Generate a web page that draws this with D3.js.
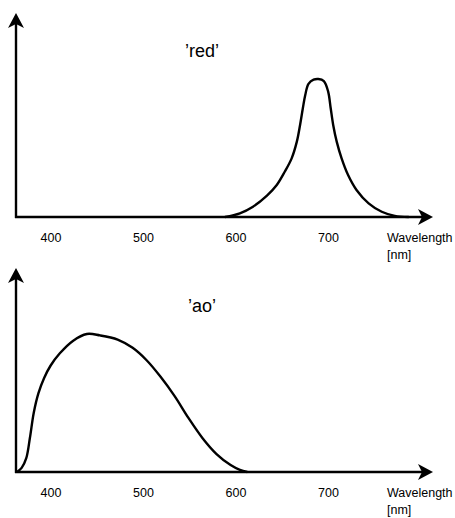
<!DOCTYPE html>
<html>
<head>
<meta charset="utf-8">
<script src="https://cdn.jsdelivr.net/npm/d3@7"></script>
<style>
  html, body { margin: 0; padding: 0; background: #ffffff; }
  svg { display: block; }
</style>
</head>
<body>
<svg id="chart"></svg>
<script>
// tick labels on the wavelength axis
const wavelengthTicks = [400, 500, 600, 700];

// 'red' spectrum (nm, relative response)
const redWavelength = [588.6, 604.7, 618.9, 634, 644.6, 653.2, 660.7, 666.3, 669.8, 672.8, 675.4, 678.9, 684.4, 689.5, 695.5, 700.1, 702.9, 705.6, 709.4, 714.7, 721.7, 730.8, 743.9, 758.1, 772.2, 787.3];
const redValue = [0, 0.027, 0.075, 0.155, 0.232, 0.328, 0.425, 0.546, 0.667, 0.788, 0.884, 0.965, 0.995, 1.0, 0.985, 0.91, 0.788, 0.667, 0.546, 0.425, 0.304, 0.196, 0.099, 0.038, 0.008, 0];

// 'ao' spectrum (nm, relative response)
const aoWavelength = [363.7, 368.8, 373.8, 377.8, 381.9, 386.9, 393, 400, 410.1, 424.2, 439.3, 453.5, 472.6, 488.8, 503.9, 519, 534.2, 549.3, 564.4, 579.5, 594.7, 604.8, 612.8];
const aoValue = [0, 0.03, 0.1, 0.25, 0.43, 0.57, 0.68, 0.77, 0.86, 0.95, 1.0, 0.99, 0.96, 0.9, 0.81, 0.69, 0.55, 0.39, 0.245, 0.13, 0.05, 0.015, 0];

const panelLabels = ["\u2019red\u2019", "\u2019ao\u2019"];

const W = 455, H = 518;
const panelOffset = [0, 255];
const originX = 16, baseY = 217, topY = 79;

const svg = d3.select("#chart").attr("width", W).attr("height", H);

const x = d3.scaleLinear().domain([362.7, 813.5]).range([originX, 433]);
const y = d3.scaleLinear().domain([0, 1]).range([baseY, topY]);

const line = d3.line()
  .x(d => x(d[0]))
  .y(d => y(d[1]))
  .curve(d3.curveCatmullRom.alpha(0.5));

const series = [
  d3.zip(redWavelength, redValue),
  d3.zip(aoWavelength, aoValue)
];

series.forEach((data, i) => {
  const g = svg.append("g").attr("transform", `translate(0,${panelOffset[i]})`);

  // curve
  g.append("path")
    .datum(data)
    .attr("d", line)
    .attr("fill", "none")
    .attr("stroke", "#000")
    .attr("stroke-width", 2.4)
    .attr("stroke-linejoin", "round");

  // y axis line + arrow
  g.append("line")
    .attr("x1", originX).attr("x2", originX)
    .attr("y1", baseY + 1).attr("y2", 22)
    .attr("stroke", "#000").attr("stroke-width", 2.4);
  g.append("path")
    .attr("d", `M${originX},13 L${originX + 8},28 L${originX},24 L${originX - 8},28 Z`)
    .attr("fill", "#000");

  // x axis line + arrow
  g.append("line")
    .attr("x1", originX - 1).attr("x2", 424)
    .attr("y1", baseY).attr("y2", baseY)
    .attr("stroke", "#000").attr("stroke-width", 2.4);
  g.append("path")
    .attr("d", `M433,${baseY} L418,${baseY - 8} L422,${baseY} L418,${baseY + 8} Z`)
    .attr("fill", "#000");

  // tick labels
  const axis = g.append("g")
    .attr("transform", `translate(0,${baseY})`)
    .call(d3.axisBottom(x).tickValues(wavelengthTicks).tickSize(0).tickPadding(16).tickFormat(d3.format("d")));
  axis.select(".domain").remove();
  axis.selectAll("text")
    .attr("font-family", "Liberation Sans, Arial, sans-serif")
    .attr("font-size", 12.5)
    .attr("fill", "#000");

  // axis title
  const title = g.append("text")
    .attr("font-family", "Liberation Sans, Arial, sans-serif")
    .attr("font-size", 12.5)
    .attr("fill", "#000");
  title.append("tspan").attr("x", 387).attr("y", 241.5).text("Wavelength");
  title.append("tspan").attr("x", 387).attr("y", 259).text("[nm]");

  // panel label
  g.append("text")
    .attr("x", 202).attr("y", 57)
    .attr("text-anchor", "middle")
    .attr("font-family", "Liberation Sans, Arial, sans-serif")
    .attr("font-size", 18)
    .attr("fill", "#000")
    .text(panelLabels[i]);
});
</script>
</body>
</html>
